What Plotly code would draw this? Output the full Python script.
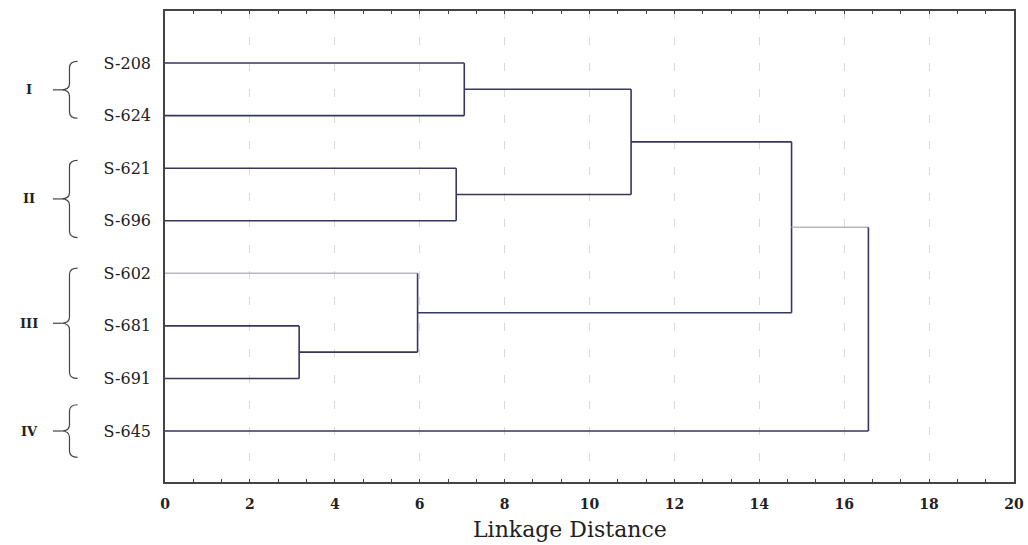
import plotly.graph_objects as go

# ---- data ----
leaves = ["S-208", "S-624", "S-621", "S-696", "S-602", "S-681", "S-691", "S-645"]
merge_a = ["S-681", "S-602", "S-621", "S-208", "C4", "C5", "C6"]
merge_b = ["S-691", "C1", "S-696", "S-624", "C3", "C2", "S-645"]
merge_h = [3.16, 5.95, 6.86, 7.05, 10.98, 14.76, 16.57]
x_ticks = [0, 2, 4, 6, 8, 10, 12, 14, 16, 18, 20]
groups = ["I", "II", "III", "IV"]
group_first = [0, 2, 4, 7]
group_last = [1, 3, 6, 7]
group_pad_top = [0.03, 0.15, 0.1, 0.5]
group_pad_bot = [0.05, 0.32, 0.0, 0.5]

DARK = "#36365f"
LIGHT = "#b8b8c0"
light_children = {"S-602", "C6"}
SERIF = "DejaVu Serif"

pos = {name: (0.0, float(i)) for i, name in enumerate(leaves)}

fig = go.Figure()

def seg(x0, x1, y0, y1, color):
    fig.add_trace(go.Scatter(x=[x0, x1], y=[y0, y1], mode="lines",
                             line=dict(color=color, width=1.6),
                             hoverinfo="skip", showlegend=False))

for k, (a, b, h) in enumerate(zip(merge_a, merge_b, merge_h), start=1):
    ha, ya = pos[a]
    hb, yb = pos[b]
    seg(ha, h, ya, ya, LIGHT if a in light_children else DARK)
    seg(hb, h, yb, yb, LIGHT if b in light_children else DARK)
    seg(h, h, ya, yb, DARK)
    pos["C%d" % k] = (h, (ya + yb) / 2.0)

# braces and group labels (paper x, data y)
x_r, x_v, x_tip = -0.103, -0.1125, -0.122
for g, f, l, pt, pb in zip(groups, group_first, group_last, group_pad_top, group_pad_bot):
    yt = f - pt
    yb = l + pb
    ym = (yt + yb) / 2.0
    r = 0.12
    path = (f"M {x_r},{yt} Q {x_v},{yt} {x_v},{yt + r} "
            f"L {x_v},{ym - r} Q {x_v},{ym} {x_tip},{ym} "
            f"Q {x_v},{ym} {x_v},{ym + r} L {x_v},{yb - r} "
            f"Q {x_v},{yb} {x_r},{yb}")
    fig.add_shape(type="path", path=path, xref="paper", yref="y",
                  line=dict(color="#444", width=1.2))
    fig.add_shape(type="line", xref="paper", yref="y", x0=x_tip - 0.01, x1=x_tip,
                  y0=ym, y1=ym, line=dict(color="#444", width=1.2))
    fig.add_annotation(x=-0.16, y=ym, xref="paper", yref="y", text=f"<b>{g}</b>",
                       showarrow=False, xanchor="center",
                       font=dict(family=SERIF, size=13, color="#222"))

fig.add_annotation(x=0.477, y=0, xref="paper", yref="paper", text="Linkage Distance",
                   showarrow=False, xanchor="center", yanchor="top", yshift=-33,
                   font=dict(family=SERIF, size=22, color="#222"))

fig.update_layout(
    width=1028, height=545,
    margin=dict(l=165, r=14, t=11, b=63, autoexpand=False),
    paper_bgcolor="white", plot_bgcolor="white",
    xaxis=dict(range=[0, 20], tickvals=x_ticks, ticktext=[f"<b>{v}</b>" for v in x_ticks],
               showgrid=True, gridcolor="#d9d9d9", gridwidth=1, griddash="8px,18px",
               zeroline=False, showline=True, linecolor="#444", linewidth=1.5, mirror="ticks",
               ticks="inside", ticklen=3, tickcolor="#444", ticklabelstandoff=8,
               ticklabeloverflow="allow", automargin=False,
               minor=dict(dtick=2/3, tick0=0, ticks="inside", ticklen=3, tickcolor="#444", showgrid=False),
               tickfont=dict(family=SERIF, size=14, color="#222")),
    yaxis=dict(range=[7.97, -0.99], tickvals=list(range(len(leaves))), ticktext=leaves,
               showgrid=False, zeroline=False, showline=True, linecolor="#444", linewidth=1.5,
               mirror=True, ticks="", ticklabelstandoff=9, automargin=False,
               tickfont=dict(family=SERIF, size=16, color="#222")),
)

fig.write_html("out.html", config={"displayModeBar": False},
               post_script="document.body.style.margin='0';document.body.style.overflow='hidden';")
